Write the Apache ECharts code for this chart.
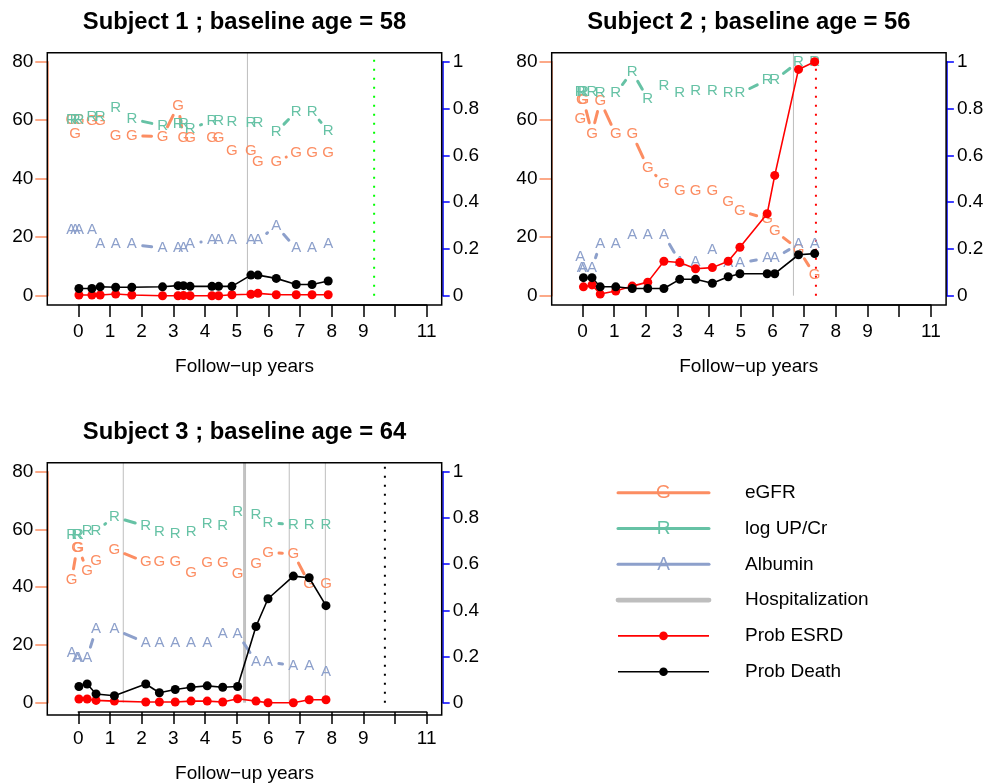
<!DOCTYPE html>
<html>
<head>
<meta charset="utf-8">
<title>Subjects</title>
<script src="https://cdn.jsdelivr.net/npm/echarts@6.0.0/dist/echarts.min.js"></script>
<style>
html, body { margin:0; padding:0; background:#fff; }
#chart { width:989px; height:784px; }
</style>
</head>
<body>
<div id="chart"></div>
<script>
// ticks and labels
var xTicks = [0,1,2,3,4,5,6,7,8,9,10,11];
var xLabels = [0,1,2,3,4,5,6,7,8,9,11];   // no "10", as in the original
var leftTicks = [0,20,40,60,80];
var rightTicks = [0,0.2,0.4,0.6,0.8,1];

var titles = ['Subject 1 ; baseline age = 58', 'Subject 2 ; baseline age = 56', 'Subject 3 ; baseline age = 64'];
var xName = 'Follow\u2212up years';
var legendNames = ['eGFR', 'log UP/Cr', 'Albumin', 'Hospitalization', 'Prob ESRD', 'Prob Death'];

// subject 1
var s1LabTime = [-0.22,-0.10,0.02,0.43,0.69,1.18,1.69,2.66,3.15,3.32,3.53,4.22,4.43,4.85,5.45,5.67,6.25,6.88,7.38,7.89];
var s1Egfr    = [60.0,55.2,60.0,59.7,59.7,54.7,54.7,54.4,65.0,54.0,54.0,54.0,54.0,49.6,49.6,45.8,45.8,49.0,48.8,48.8];
var s1Upcr    = [60.0,60.0,60.0,61.2,61.2,64.1,60.4,58.1,58.9,58.9,57.2,59.7,59.7,59.4,59.0,59.0,56.0,62.9,62.9,56.4];
var s1Alb     = [22.5,22.5,22.5,22.5,17.6,17.6,17.6,16.2,16.2,16.2,17.7,19.0,19.0,19.0,19.0,19.0,23.8,16.2,16.2,17.6];
var s1ProbTime = [0.02,0.43,0.69,1.18,1.69,2.66,3.15,3.32,3.53,4.22,4.43,4.85,5.45,5.67,6.25,6.88,7.38,7.89];
var s1Esrd  = [0.003,0.003,0.003,0.007,0.003,0.000,0.000,0.001,0.000,0.000,0.000,0.004,0.006,0.010,0.004,0.004,0.004,0.004];
var s1Death = [0.031,0.031,0.038,0.036,0.036,0.038,0.043,0.043,0.040,0.040,0.040,0.040,0.088,0.088,0.074,0.048,0.048,0.063];
var s1Hosp = [5.34];
var s1EndTime = 9.34, s1EndType = 'censored';

// subject 2
var s2LabTime = [-0.07,-0.02,0.03,0.30,0.56,1.05,1.57,2.06,2.57,3.07,3.57,4.10,4.60,4.97,5.83,6.07,6.82,7.33];
var s2Egfr    = [60.6,66.9,66.9,55.5,66.6,55.2,55.2,43.8,38.4,35.9,35.9,35.9,32.1,29.1,26.2,22.2,15.8,7.1];
var s2Upcr    = [69.7,69.7,69.7,69.7,69.2,69.2,76.6,67.3,71.7,69.5,70.0,70.0,69.2,69.2,73.7,73.7,80.0,80.0];
var s2Alb     = [13.3,9.4,9.4,9.4,17.7,17.7,20.8,20.8,20.8,11.6,11.6,15.8,11.3,11.3,12.8,12.8,17.7,17.7];
var s2ProbTime = [0.03,0.30,0.56,1.05,1.57,2.06,2.57,3.07,3.57,4.10,4.60,4.97,5.83,6.07,6.82,7.33];
var s2Esrd  = [0.038,0.046,0.007,0.020,0.041,0.058,0.147,0.142,0.115,0.120,0.147,0.207,0.350,0.514,0.967,1.000];
var s2Death = [0.077,0.077,0.038,0.038,0.031,0.031,0.031,0.070,0.070,0.053,0.081,0.094,0.094,0.094,0.175,0.180];
var s2Hosp = [6.66];
var s2EndTime = 7.37, s2EndType = 'ESRD';

// subject 3
var s3LabTime = [-0.21,-0.04,0.00,0.28,0.56,1.14,2.13,2.56,3.06,3.56,4.07,4.56,5.03,5.61,5.99,6.79,7.29,7.82];
var s3Egfr    = [42.6,53.6,53.6,45.8,49.0,53.0,48.7,48.7,48.7,44.9,48.3,48.3,44.7,48.1,51.9,51.7,41.3,41.3];
var s3Upcr    = [58.1,58.1,58.1,59.5,59.5,64.3,61.2,59.1,58.4,59.1,61.8,61.2,66.0,65.2,62.3,61.7,61.7,61.7];
var s3Alb     = [17.3,15.6,15.6,15.6,25.5,25.5,20.7,20.7,20.7,20.7,20.7,23.9,23.9,14.2,14.2,12.8,12.8,10.8];
var s3ProbTime = [0.02,0.28,0.56,1.14,2.13,2.56,3.06,3.56,4.07,4.56,5.03,5.61,5.99,6.79,7.29,7.82];
var s3Esrd  = [0.016,0.016,0.010,0.007,0.003,0.003,0.003,0.007,0.007,0.003,0.017,0.007,0.000,0.000,0.013,0.013];
var s3Death = [0.070,0.081,0.038,0.030,0.081,0.043,0.057,0.067,0.073,0.067,0.070,0.330,0.450,0.548,0.541,0.420];
var s3Hosp = [1.42,5.22,5.25,5.28,6.66,7.80];
var s3EndTime = 9.68, s3EndType = 'death';

// colours
var colG = '#FC8D62', colR = '#66C2A5', colA = '#8DA0CB', colHosp = '#BEBEBE';
var eventColor = { censored: '#00FF00', ESRD: '#FF0000', death: '#000000' };
var FONT = '"Liberation Sans", Arial, Helvetica, sans-serif';
var yBoxTop = 83.2;   // top of the plot box in left-axis units (R adds 4%)
var GAP = 11;         // type="b" gap around letters

var subjects = [
    { labTime:s1LabTime, egfr:s1Egfr, upcr:s1Upcr, alb:s1Alb, probTime:s1ProbTime, esrd:s1Esrd, death:s1Death, hosp:s1Hosp, endTime:s1EndTime, endType:s1EndType },
    { labTime:s2LabTime, egfr:s2Egfr, upcr:s2Upcr, alb:s2Alb, probTime:s2ProbTime, esrd:s2Esrd, death:s2Death, hosp:s2Hosp, endTime:s2EndTime, endType:s2EndType },
    { labTime:s3LabTime, egfr:s3Egfr, upcr:s3Upcr, alb:s3Alb, probTime:s3ProbTime, esrd:s3Esrd, death:s3Death, hosp:s3Hosp, endTime:s3EndTime, endType:s3EndType }
];

// panel layout (pixels)
var panels = [
    { left:78.3,  top:61.7,  box:[47.3, 52.7, 394.4, 252.3] },
    { left:582.5, top:61.7,  box:[551.7, 52.7, 394.4, 252.3] },
    { left:78.3,  top:471.7, box:[47.3, 462.7, 394.4, 252.3] }
];
var gridW = 348.4, gridH = 234;

function zip(a, b) {
    var out = [];
    for (var i = 0; i < a.length; i++) out.push([a[i], b[i]]);
    return out;
}

// letters joined by segments that stop short of each letter (like R type="b")
function letterSeries(gi, times, values, letter, color) {
    var data = [];
    for (var i = 0; i < times.length; i++) {
        var last = i === times.length - 1;
        data.push([times[i], values[i], last ? null : times[i + 1], last ? null : values[i + 1]]);
    }
    return {
        type: 'custom', xAxisIndex: gi, yAxisIndex: gi * 2, data: data,
        encode: { x: 0, y: 1 }, z: 3, silent: true, animation: false,
        renderItem: function (params, api) {
            var p = api.coord([api.value(0), api.value(1)]);
            var kids = [];
            var nx = api.value(2), ny = api.value(3);
            if (isFinite(nx) && isFinite(ny)) {
                var q = api.coord([nx, ny]);
                var dx = q[0] - p[0], dy = q[1] - p[1];
                var d = Math.sqrt(dx * dx + dy * dy);
                if (d > 2 * GAP) {
                    kids.push({ type: 'line',
                        shape: { x1: p[0] + dx / d * GAP, y1: p[1] + dy / d * GAP, x2: q[0] - dx / d * GAP, y2: q[1] - dy / d * GAP },
                        style: { stroke: color, lineWidth: 3, lineCap: 'round' } });
                }
            }
            kids.push({ type: 'text', x: p[0], y: p[1],
                style: { text: letter, fill: color, font: '15px ' + FONT, align: 'center', verticalAlign: 'middle' } });
            return { type: 'group', children: kids };
        }
    };
}

// vertical lines from 0 to the top of the box
function vlineSeries(gi, times, color, width, dash) {
    return {
        type: 'custom', xAxisIndex: gi, yAxisIndex: gi * 2,
        data: times.map(function (t) { return [t]; }),
        encode: { x: 0 }, z: 1, silent: true, animation: false,
        renderItem: function (params, api) {
            var t = api.value(0);
            var a = api.coord([t, 0]), b = api.coord([t, yBoxTop]);
            return { type: 'line', shape: { x1: a[0], y1: a[1], x2: b[0], y2: b[1] },
                style: { stroke: color, lineWidth: width, lineDash: dash, lineCap: 'butt' } };
        }
    };
}

function probSeries(gi, times, values, color) {
    return {
        type: 'line', xAxisIndex: gi, yAxisIndex: gi * 2 + 1, data: zip(times, values),
        symbol: 'circle', symbolSize: 9, showAllSymbol: true, clip: false, z: 5,
        lineStyle: { color: color, width: 1.6 }, itemStyle: { color: color },
        silent: true, animation: false
    };
}

var grids = [], xAxes = [], yAxes = [], series = [], graphics = [];

panels.forEach(function (p, i) {
    grids.push({ left: p.left, top: p.top, width: gridW, height: gridH, containLabel: false });
    xAxes.push({
        gridIndex: i, type: 'value', min: 0, max: 11, offset: 9.3,
        axisLine: { show: true, onZero: false, lineStyle: { color: '#000', width: 1.5 } },
        axisTick: { show: true, customValues: xTicks, length: 12, lineStyle: { color: '#000', width: 1.5 } },
        axisLabel: { customValues: xLabels, margin: 17, fontSize: 19, color: '#000', fontFamily: FONT },
        splitLine: { show: false },
        name: xName, nameLocation: 'middle', nameGap: 52,
        nameTextStyle: { fontSize: 19, color: '#000', fontFamily: FONT, padding: [0, 16, 0, 0] }
    });
    yAxes.push({
        gridIndex: i, type: 'value', min: 0, max: 80, position: 'left', offset: 31,
        axisLine: { show: true, onZero: false, lineStyle: { color: colG, width: 1.5 } },
        axisTick: { show: true, customValues: leftTicks, length: 12, lineStyle: { color: colG, width: 1.5 } },
        axisLabel: { customValues: leftTicks, margin: 14, fontSize: 19, color: '#000', fontFamily: FONT },
        splitLine: { show: false }
    });
    yAxes.push({
        gridIndex: i, type: 'value', min: 0, max: 1, position: 'right', offset: 16,
        axisLine: { show: true, onZero: false, lineStyle: { color: '#0000FF', width: 1.5 } },
        axisTick: { show: true, customValues: rightTicks, length: 7, lineStyle: { color: '#0000FF', width: 1.5 } },
        axisLabel: { customValues: rightTicks, margin: 10, fontSize: 19, color: '#000', fontFamily: FONT },
        splitLine: { show: false }
    });

    var s = subjects[i];
    series.push(vlineSeries(i, s.hosp, colHosp, 1, null));
    series.push(vlineSeries(i, [s.endTime], eventColor[s.endType], 2, [2, 7]));
    series.push(letterSeries(i, s.labTime, s.egfr, 'G', colG));
    series.push(letterSeries(i, s.labTime, s.upcr, 'R', colR));
    series.push(letterSeries(i, s.labTime, s.alb, 'A', colA));
    series.push(probSeries(i, s.probTime, s.esrd, '#FF0000'));
    series.push(probSeries(i, s.probTime, s.death, '#000000'));

    graphics.push({ type: 'rect', silent: true, z: 10,
        shape: { x: p.box[0], y: p.box[1], width: p.box[2], height: p.box[3] },
        style: { fill: 'none', stroke: '#000', lineWidth: 1.5 } });
    graphics.push({ type: 'text', silent: true, x: p.box[0] + p.box[2] / 2, y: p.box[1] - 30,
        style: { text: titles[i], fill: '#000', font: 'bold 23.8px ' + FONT, align: 'center', verticalAlign: 'middle' } });
});

// legend, drawn in the empty fourth panel
var legX1 = 618, legX2 = 709, legTextX = 745, legY0 = 492.7, legStep = 35.8;
var legStyles = [
    { kind: 'letter', color: colG, letter: 'G' },
    { kind: 'letter', color: colR, letter: 'R' },
    { kind: 'letter', color: colA, letter: 'A' },
    { kind: 'hosp',   color: colHosp },
    { kind: 'prob',   color: '#FF0000' },
    { kind: 'prob',   color: '#000000' }
];
legStyles.forEach(function (st, k) {
    var y = legY0 + k * legStep, mid = (legX1 + legX2) / 2;
    if (st.kind === 'letter') {
        graphics.push({ type: 'line', silent: true, shape: { x1: legX1, y1: y, x2: legX2, y2: y },
            style: { stroke: st.color, lineWidth: 3, lineCap: 'round' } });
        graphics.push({ type: 'text', silent: true, x: mid, y: y,
            style: { text: st.letter, fill: st.color, font: '19px ' + FONT, align: 'center', verticalAlign: 'middle' } });
    } else if (st.kind === 'hosp') {
        graphics.push({ type: 'line', silent: true, shape: { x1: legX1, y1: y, x2: legX2, y2: y },
            style: { stroke: st.color, lineWidth: 4.8, lineCap: 'round' } });
    } else {
        graphics.push({ type: 'line', silent: true, shape: { x1: legX1, y1: y, x2: legX2, y2: y },
            style: { stroke: st.color, lineWidth: 1.6 } });
        graphics.push({ type: 'circle', silent: true, shape: { cx: mid, cy: y, r: 4.3 }, style: { fill: st.color } });
    }
    graphics.push({ type: 'text', silent: true, x: legTextX, y: y,
        style: { text: legendNames[k], fill: '#000', font: '19px ' + FONT, align: 'left', verticalAlign: 'middle' } });
});

var chart = echarts.init(document.getElementById('chart'));
chart.setOption({
    backgroundColor: '#fff',
    animation: false,
    grid: grids,
    xAxis: xAxes,
    yAxis: yAxes,
    series: series,
    graphic: graphics
});
</script>
</body>
</html>
